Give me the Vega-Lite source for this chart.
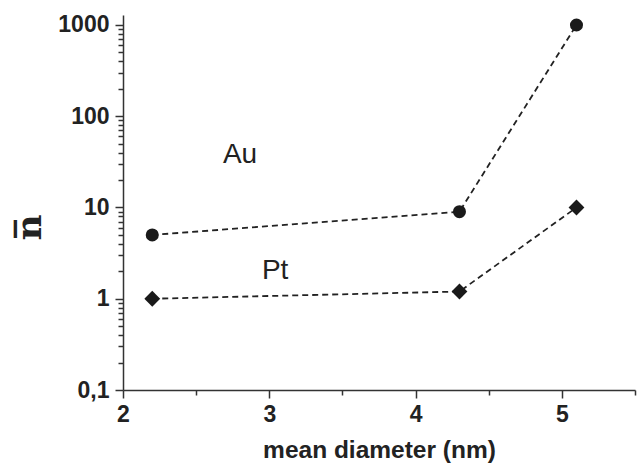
{
  "$schema": "https://vega.github.io/schema/vega-lite/v6.json",
  "width": 512,
  "height": 375,
  "autosize": "none",
  "padding": {"left": 123, "top": 15, "right": 3, "bottom": 78},
  "background": "white",
  "config": {
    "view": {"stroke": null},
    "axis": {
      "domainColor": "#333333",
      "domainWidth": 1.5,
      "tickColor": "#333333",
      "tickWidth": 1.5,
      "grid": false,
      "labelFont": "Liberation Sans",
      "labelFontWeight": "bold",
      "labelColor": "#222222",
      "labelFontSize": 23,
      "titleFont": "Liberation Sans",
      "titleFontWeight": "bold",
      "titleColor": "#222222"
    }
  },
  "datasets": {
    "series": [
      {"diameter": 2.2, "n": 5, "metal": "Au"},
      {"diameter": 4.3, "n": 9, "metal": "Au"},
      {"diameter": 5.1, "n": 1000, "metal": "Au"},
      {"diameter": 2.2, "n": 1, "metal": "Pt"},
      {"diameter": 4.3, "n": 1.2, "metal": "Pt"},
      {"diameter": 5.1, "n": 10, "metal": "Pt"}
    ],
    "labels": [
      {"diameter": 2.8, "n": 38, "text": "Au"},
      {"diameter": 3.04, "n": 2.0, "text": "Pt"}
    ]
  },
  "encoding": {
    "x": {
      "field": "diameter",
      "type": "quantitative",
      "scale": {"domain": [2, 5.5], "nice": false, "zero": false},
      "axis": {
        "title": "mean diameter (nm)",
        "titleFontSize": 24.5,
        "titlePadding": 12,
        "values": [2, 2.5, 3, 3.5, 4, 4.5, 5, 5.5],
        "labelExpr": "datum.value % 1 == 0 ? format(datum.value, 'd') : ''",
        "tickSize": {"condition": {"test": "datum.value % 1 == 0", "value": 8}, "value": 5},
        "labelPadding": 5,
        "labelOverlap": false,
        "labelFlush": false
      }
    },
    "y": {
      "field": "n",
      "type": "quantitative",
      "scale": {"type": "log", "domain": [0.1, 1287], "nice": false},
      "axis": {
        "title": "n̅",
        "titleFont": "DejaVu Serif",
        "titleFontSize": 36,
        "titleX": -94,
        "titleY": 212,
        "titleBaseline": "middle",
        "titleAngle": -90,
        "values": [0.1, 0.2, 0.3, 0.4, 0.5, 0.6, 0.7, 0.8, 0.9, 1, 2, 3, 4, 5, 6, 7, 8, 9, 10, 20, 30, 40, 50, 60, 70, 80, 90, 100, 200, 300, 400, 500, 600, 700, 800, 900, 1000],
        "labelExpr": "datum.value == 0.1 ? '0,1' : (abs(log(datum.value)/LN10 - round(log(datum.value)/LN10)) < 0.001 ? format(datum.value, 'd') : '')",
        "tickSize": {"condition": {"test": "abs(log(datum.value)/LN10 - round(log(datum.value)/LN10)) < 0.001", "value": 8}, "value": 5},
        "labelPadding": 6,
        "labelOverlap": false,
        "labelFlush": false
      }
    }
  },
  "layer": [
    {
      "data": {"name": "series"},
      "mark": {"type": "line", "strokeDash": [6, 4], "strokeWidth": 1.8, "color": "#222222"},
      "encoding": {"detail": {"field": "metal"}}
    },
    {
      "data": {"name": "series"},
      "mark": {"type": "point", "filled": true, "opacity": 1, "color": "#1a1a1a"},
      "encoding": {
        "shape": {
          "field": "metal",
          "type": "nominal",
          "scale": {"domain": ["Au", "Pt"], "range": ["circle", "diamond"]},
          "legend": null
        },
        "size": {
          "field": "metal",
          "type": "nominal",
          "scale": {"domain": ["Au", "Pt"], "range": [170, 250]},
          "legend": null
        }
      }
    },
    {
      "data": {"name": "labels"},
      "mark": {"type": "text", "font": "Liberation Sans", "fontSize": 28, "color": "#222222", "align": "center", "baseline": "middle"},
      "encoding": {"text": {"field": "text"}}
    }
  ]
}
